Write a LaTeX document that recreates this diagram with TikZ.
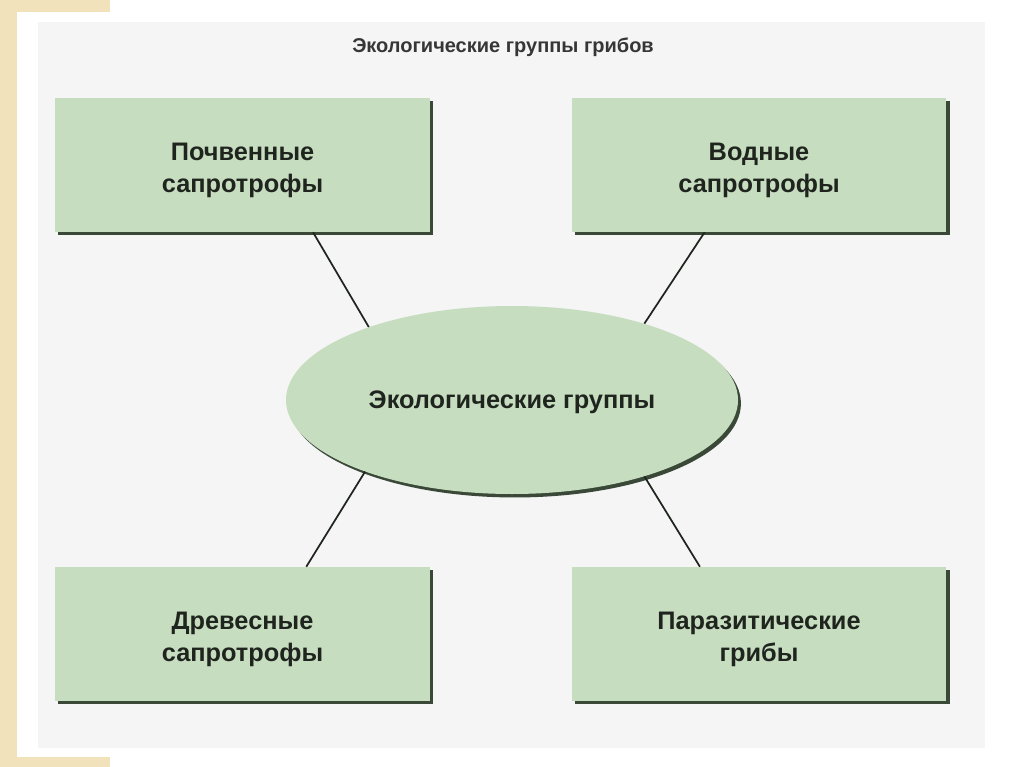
\documentclass[tikz,border=0pt]{standalone}
\usepackage{fontspec}
\setmainfont{Liberation Sans}
\usepackage{tikz}
\usetikzlibrary{shapes.geometric,shadows,calc,positioning}
\definecolor{sand}{HTML}{F2E2BC}
\definecolor{panel}{HTML}{F5F5F5}
\definecolor{leaf}{HTML}{C7DDC0}
\definecolor{leafdark}{HTML}{3A4838}
\definecolor{ink}{HTML}{1F251E}
\definecolor{inksoft}{HTML}{363636}

\begin{document}
\begin{tikzpicture}[
  x=0.75pt,y=-0.75pt,
  font=\bfseries,
  box/.style={fill=leaf,minimum width=281pt,minimum height=100.5pt,inner sep=0pt,
              align=center,text=ink,font=\fontsize{19}{24.5}\selectfont\bfseries,
              text height=45.5pt,
              general shadow={fill=leafdark,shadow xshift=2.4pt,shadow yshift=-2.6pt}},
  hub/.style={ellipse,fill=leaf,minimum width=339pt,minimum height=141pt,inner sep=0pt,
              text=ink,font=\fontsize{19}{25}\selectfont\bfseries,text height=16pt,
              general shadow={fill=leafdark,shadow xshift=2.2pt,shadow yshift=-2.6pt}},
  title/.style={text=inksoft,font=\fontsize{15}{18}\selectfont\bfseries},
  link/.style={draw=ink,line width=1.3pt},
]
\useasboundingbox (0,0) rectangle (1024,767);
% page and panel
\fill[white] (0,0) rectangle (1024,767);
\fill[sand] (0,0) rectangle (17,767);
\fill[sand] (0,0) rectangle (110,12);
\fill[sand] (0,757) rectangle (110,767);
\fill[panel] (38,22) rectangle (985,748);

\node[title] (head) at (503,47) {Экологические группы грибов};

\node[hub] (eco) at (512,400) {Экологические группы};

\node[box] (soil) at (242.5,165) {Почвенные\\сапротрофы};
\node[box] (water) at (759,165) {Водные\\сапротрофы};
\node[box] (wood) at (242.5,634) {Древесные\\сапротрофы};
\node[box] (paras) at (759,634) {Паразитические\\грибы};

\draw[link] ($(soil.south)!0.376!(soil.south east)$) -- (eco.153);
\draw[link] ($(water.south)!0.29!(water.south west)$) -- (eco.30);
\draw[link] ($(wood.north)!0.34!(wood.north east)$) -- (eco.206);
\draw[link] ($(paras.north)!0.315!(paras.north west)$) -- (eco.330);
\end{tikzpicture}
\end{document}
